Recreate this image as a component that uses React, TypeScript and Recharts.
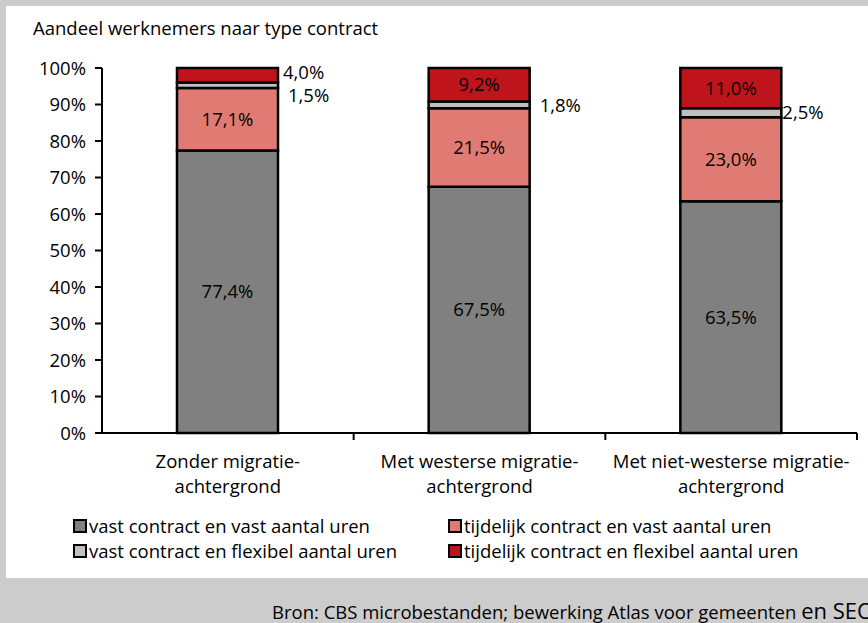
import React from "react";
import { BarChart, Bar, XAxis, YAxis, LabelList } from "recharts";

const categories = [
  ["Zonder migratie-", "achtergrond"],
  ["Met westerse migratie-", "achtergrond"],
  ["Met niet-westerse migratie-", "achtergrond"],
];

const vastVast = [77.4, 67.5, 63.5];
const tijdelijkVast = [17.1, 21.5, 23.0];
const vastFlex = [1.5, 1.8, 2.5];
const tijdelijkFlex = [4.0, 9.2, 11.0];

const yTicks = [0, 10, 20, 30, 40, 50, 60, 70, 80, 90, 100];

const SERIES = [
  { key: "vastVast", name: "vast contract en vast aantal uren", color: "#808080", values: vastVast },
  { key: "tijdelijkVast", name: "tijdelijk contract en vast aantal uren", color: "#E07B73", values: tijdelijkVast },
  { key: "vastFlex", name: "vast contract en flexibel aantal uren", color: "#C0C0C0", values: vastFlex },
  { key: "tijdelijkFlex", name: "tijdelijk contract en flexibel aantal uren", color: "#C0141C", values: tijdelijkFlex },
];

// legend grid: row-major, 2 columns
const LEGEND_ORDER = ["vastVast", "tijdelijkVast", "vastFlex", "tijdelijkFlex"];

// nudges for the small labels placed to the right of the bar (Excel-style)
const NUDGE: Record<string, [number, number]> = {
  "tijdelijkFlex-0": [5, -3],
  "vastFlex-0": [10, 10],
  "vastFlex-1": [10, 0],
  "vastFlex-2": [1, 0],
};

const W = 868;
const H = 623;
const FONT = "'Open Sans', sans-serif";
const FS = 18.5;
const M = { top: 68, right: 11, bottom: 120, left: 0 };
const Y_W = 102;
const BAND = (W - M.left - M.right - Y_W) / categories.length;

const data = categories.map((c, i) => {
  const row: Record<string, any> = { name: c.join(" "), lines: c };
  SERIES.forEach((s) => (row[s.key] = s.values[i]));
  return row;
});

const pct = (v: number) => v.toFixed(1).replace(".", ",") + "%";

/* eslint-disable @typescript-eslint/no-explicit-any */
function CatTick({ x, y, payload }: any) {
  const lines = categories[payload.index] || [payload.value];
  return (
    <g>
      <line x1={x + BAND / 2} x2={x + BAND / 2} y1={y} y2={y + 7} stroke="#000" strokeWidth={2} />
      {lines.map((l: string, i: number) => (
        <text
          key={i}
          x={x}
          y={y + 35 + i * 25}
          textAnchor="middle"
          fontFamily={FONT}
          fontSize={FS}
          fill="#000"
        >
          {l}
        </text>
      ))}
    </g>
  );
}

const makeLabel = (seriesKey: string) => (props: any) => {
  const { x, y, width, height, value, index } = props;
  if (value == null) return null;
  const small = value < 5;
  const nudge = NUDGE[seriesKey + "-" + index] || [5, 0];
  const tx = small ? x + width + nudge[0] : x + width / 2;
  const ty = y + height / 2 + (small ? nudge[1] : 0);
  return (
    <text
      x={tx}
      y={ty}
      dy="0.36em"
      textAnchor={small ? "start" : "middle"}
      fontFamily={FONT}
      fontSize={FS}
      fill="#000"
    >
      {pct(value)}
    </text>
  );
};
/* eslint-enable @typescript-eslint/no-explicit-any */

export default function App() {
  return (
    <div
      style={{
        position: "absolute",
        left: 0,
        top: 0,
        width: W,
        height: H,
        background: "#CCCCCC",
        overflow: "hidden",
        fontFamily: FONT,
      }}
    >
      <div style={{ position: "absolute", left: 6, top: 6, width: W - 6, height: 572, background: "#fff" }} />
      <div style={{ position: "absolute", left: 33, top: 15, fontSize: FS, color: "#000", whiteSpace: "nowrap" }}>
        Aandeel werknemers naar type contract
      </div>
      <div style={{ position: "absolute", left: 0, top: 0 }}>
        <BarChart width={W} height={H} data={data} margin={M} barSize={101}>
          <XAxis
            dataKey="name"
            interval={0}
            tickSize={0}
            tickMargin={0}
            height={70}
            axisLine={{ stroke: "#000", strokeWidth: 2 }}
            tick={<CatTick />}
          />
          <YAxis
            width={Y_W}
            domain={[0, 100]}
            ticks={yTicks}
            interval={0}
            tickSize={7}
            tickMargin={9}
            tickFormatter={(v: number) => v + "%"}
            axisLine={{ stroke: "#000", strokeWidth: 2 }}
            tickLine={{ stroke: "#000", strokeWidth: 2 }}
            tick={{ fontFamily: FONT, fontSize: FS, fill: "#000" }}
          />
          {SERIES.map((s) => (
            <Bar
              key={s.key}
              dataKey={s.key}
              name={s.name}
              stackId="a"
              fill={s.color}
              stroke="#000"
              strokeWidth={2.5}
              isAnimationActive={false}
            >
              <LabelList dataKey={s.key} content={makeLabel(s.key)} />
            </Bar>
          ))}
        </BarChart>
      </div>
      {LEGEND_ORDER.map((k, i) => {
        const s = SERIES.find((x) => x.key === k)!;
        const col = i % 2;
        const row = Math.floor(i / 2);
        return (
          <div
            key={k}
            style={{
              position: "absolute",
              left: col === 0 ? 73 : 448,
              top: 513 + row * 25,
              display: "flex",
              alignItems: "center",
              fontSize: FS,
              color: "#000",
              whiteSpace: "nowrap",
              lineHeight: "26px",
            }}
          >
            <span
              style={{
                display: "inline-block",
                width: 10,
                height: 10,
                background: s.color,
                border: "2px solid #000",
                marginRight: 2,
              }}
            />
            {s.name}
          </div>
        );
      })}
      <svg width={W} height={H} style={{ position: "absolute", left: 0, top: 0 }}>
        <text x={272} y={619} fontFamily={FONT} fontSize={FS} fill="#000">
          Bron: CBS microbestanden; bewerking Atlas voor gemeenten{" "}
          <tspan fontSize={22}>en SEO</tspan>
        </text>
      </svg>
    </div>
  );
}
